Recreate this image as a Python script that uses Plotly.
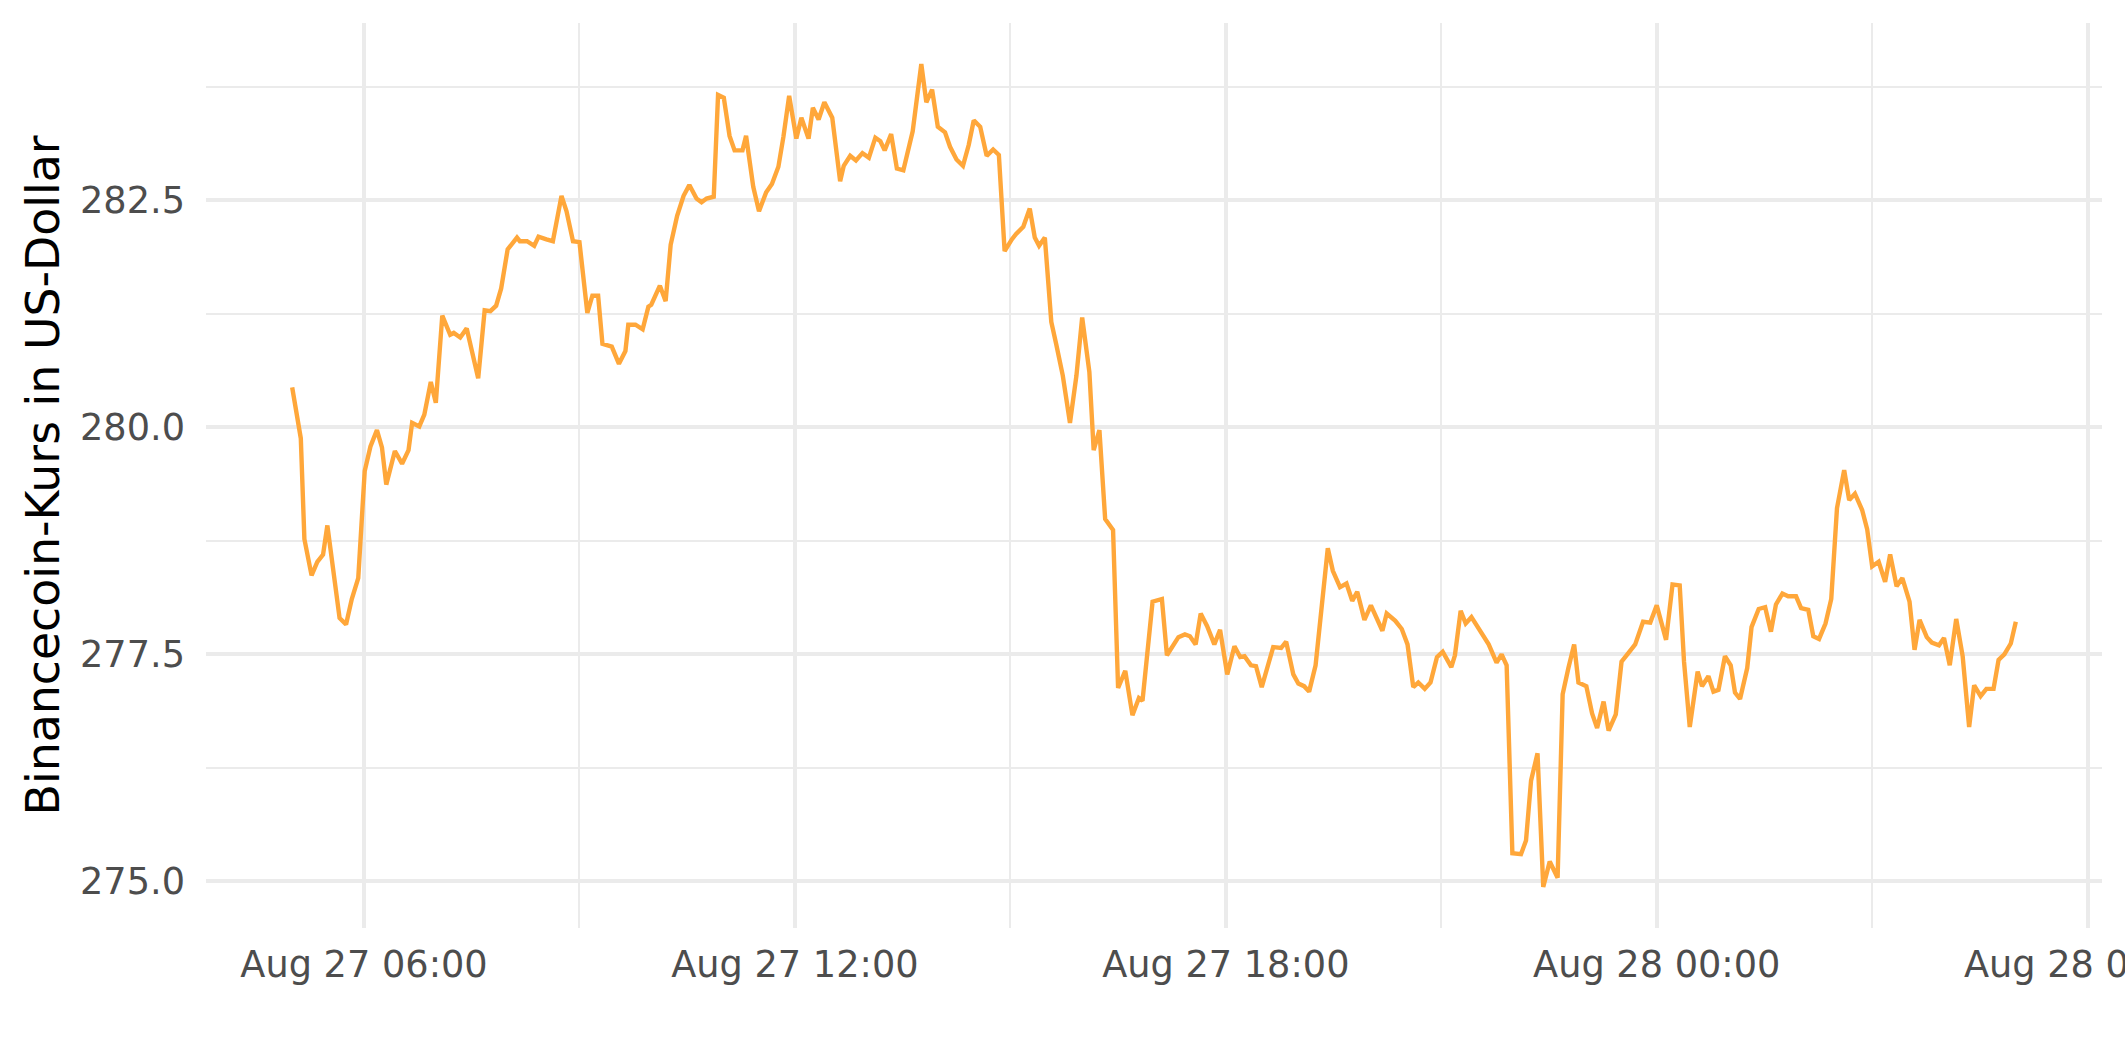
import pandas as pd
import plotly.graph_objects as go

# ---- data ----
# time in hours after 2022-08-27 00:00
time_h = [
    5.00, 5.12, 5.17, 5.27, 5.35, 5.43, 5.49, 5.57, 5.66, 5.75, 5.83, 5.92,
    6.01, 6.09, 6.18, 6.25, 6.31, 6.43, 6.53, 6.62, 6.67, 6.77, 6.84, 6.93,
    7.00, 7.09, 7.20, 7.25, 7.34, 7.43, 7.59, 7.68, 7.76, 7.84, 7.91, 8.00,
    8.13, 8.17, 8.27, 8.37, 8.43, 8.54, 8.63, 8.75, 8.82, 8.91, 9.00, 9.11,
    9.18, 9.26, 9.32, 9.45, 9.55, 9.64, 9.68, 9.78, 9.88, 9.96, 10.00, 10.12,
    10.20, 10.27, 10.36, 10.45, 10.53, 10.63, 10.70, 10.77, 10.87, 10.93, 11.01, 11.09,
    11.16, 11.27, 11.32, 11.42, 11.50, 11.60, 11.68, 11.77, 11.84, 11.92, 12.02, 12.09,
    12.19, 12.25, 12.33, 12.41, 12.52, 12.63, 12.68, 12.77, 12.85, 12.94, 13.03, 13.12,
    13.19, 13.25, 13.34, 13.42, 13.51, 13.64, 13.76, 13.83, 13.91, 13.99, 14.09, 14.16,
    14.25, 14.34, 14.42, 14.49, 14.58, 14.67, 14.76, 14.84, 14.92, 15.02, 15.08, 15.18,
    15.27, 15.34, 15.40, 15.48, 15.57, 15.64, 15.73, 15.83, 15.92, 16.00, 16.10, 16.16,
    16.24, 16.32, 16.43, 16.50, 16.60, 16.70, 16.79, 16.84, 16.98, 17.11, 17.18, 17.34,
    17.43, 17.50, 17.58, 17.65, 17.74, 17.84, 17.92, 18.02, 18.12, 18.20, 18.26, 18.35,
    18.42, 18.50, 18.58, 18.66, 18.77, 18.84, 18.94, 19.01, 19.09, 19.16, 19.25, 19.42,
    19.49, 19.59, 19.68, 19.76, 19.83, 19.93, 20.02, 20.18, 20.24, 20.36, 20.45, 20.53,
    20.61, 20.68, 20.77, 20.85, 20.94, 21.02, 21.14, 21.19, 21.27, 21.34, 21.42, 21.66,
    21.77, 21.84, 21.91, 21.99, 22.11, 22.18, 22.25, 22.34, 22.42, 22.51, 22.62, 22.69,
    22.77, 22.85, 22.91, 23.02, 23.10, 23.17, 23.26, 23.33, 23.43, 23.51, 23.61, 23.70,
    23.81, 23.91, 24.00, 24.13, 24.22, 24.32, 24.38, 24.46, 24.57, 24.63, 24.72, 24.79,
    24.86, 24.95, 25.03, 25.09, 25.16, 25.26, 25.32, 25.42, 25.51, 25.59, 25.66, 25.75,
    25.83, 25.94, 26.01, 26.11, 26.18, 26.26, 26.35, 26.43, 26.51, 26.61, 26.68, 26.76,
    26.86, 26.93, 27.00, 27.09, 27.18, 27.25, 27.34, 27.42, 27.52, 27.59, 27.66, 27.76,
    27.83, 27.93, 28.00, 28.08, 28.17, 28.26, 28.35, 28.42, 28.51, 28.59, 28.69, 28.76,
    28.84, 28.93, 29.00,
]

price = [
    280.44, 279.88, 278.77, 278.37, 278.52, 278.60, 278.92, 278.46, 277.90, 277.83, 278.11, 278.34,
    279.52, 279.79, 279.97, 279.78, 279.37, 279.74, 279.60, 279.75, 280.05, 280.01, 280.14, 280.50,
    280.27, 281.23, 281.02, 281.04, 280.99, 281.09, 280.54, 281.29, 281.28, 281.34, 281.53, 281.96,
    282.09, 282.05, 282.05, 282.00, 282.10, 282.07, 282.05, 282.55, 282.38, 282.05, 282.04, 281.26,
    281.45, 281.45, 280.92, 280.89, 280.70, 280.84, 281.13, 281.13, 281.08, 281.33, 281.35, 281.56,
    281.39, 282.01, 282.33, 282.55, 282.67, 282.52, 282.48, 282.52, 282.54, 283.66, 283.63, 283.21,
    283.05, 283.05, 283.21, 282.65, 282.38, 282.59, 282.68, 282.87, 283.20, 283.65, 283.18, 283.41,
    283.18, 283.52, 283.39, 283.58, 283.41, 282.71, 282.88, 282.99, 282.94, 283.02, 282.97, 283.19,
    283.15, 283.05, 283.23, 282.85, 282.83, 283.26, 284.00, 283.58, 283.72, 283.31, 283.25, 283.09,
    282.95, 282.88, 283.11, 283.38, 283.31, 282.99, 283.06, 283.00, 281.94, 282.07, 282.13, 282.21,
    282.41, 282.09, 282.00, 282.09, 281.16, 280.91, 280.57, 280.05, 280.57, 281.21, 280.61, 279.75,
    279.97, 278.99, 278.87, 277.13, 277.32, 276.83, 277.02, 276.99, 278.08, 278.11, 277.49, 277.69,
    277.72, 277.70, 277.61, 277.95, 277.81, 277.61, 277.77, 277.28, 277.59, 277.47, 277.48, 277.38,
    277.37, 277.14, 277.38, 277.58, 277.57, 277.64, 277.28, 277.18, 277.15, 277.09, 277.38, 278.67,
    278.42, 278.24, 278.28, 278.09, 278.19, 277.88, 278.04, 277.76, 277.95, 277.87, 277.78, 277.61,
    277.14, 277.19, 277.12, 277.19, 277.47, 277.53, 277.36, 277.49, 277.98, 277.84, 277.91, 277.61,
    277.41, 277.50, 277.38, 275.31, 275.30, 275.45, 276.11, 276.41, 274.94, 275.22, 275.04, 277.06,
    277.35, 277.61, 277.19, 277.15, 276.85, 276.69, 276.98, 276.66, 276.84, 277.42, 277.52, 277.61,
    277.86, 277.85, 278.04, 277.66, 278.27, 278.26, 277.42, 276.70, 277.31, 277.15, 277.26, 277.09,
    277.11, 277.48, 277.38, 277.08, 277.01, 277.35, 277.80, 278.00, 278.02, 277.75, 278.05, 278.17,
    278.14, 278.14, 278.01, 277.99, 277.70, 277.67, 277.84, 278.11, 279.11, 279.53, 279.20, 279.27,
    279.09, 278.88, 278.47, 278.52, 278.30, 278.60, 278.25, 278.34, 278.08, 277.55, 277.88, 277.69,
    277.63, 277.60, 277.68, 277.38, 277.89, 277.48, 276.70, 277.16, 277.04, 277.12, 277.12, 277.44,
    277.50, 277.62, 277.86,
]

x_tick_times = ["2022-08-27 06:00", "2022-08-27 12:00", "2022-08-27 18:00",
                "2022-08-28 00:00", "2022-08-28 06:00"]
x_tick_labels = ["Aug 27 06:00", "Aug 27 12:00", "Aug 27 18:00",
                 "Aug 28 00:00", "Aug 28 06:00"]
x_minor_times = ["2022-08-27 03:00", "2022-08-27 09:00", "2022-08-27 15:00",
                 "2022-08-27 21:00", "2022-08-28 03:00"]
y_ticks = [275.0, 277.5, 280.0, 282.5]
y_tick_labels = ["275.0", "277.5", "280.0", "282.5"]
y_minor = [276.25, 278.75, 281.25, 283.75]
y_title = "Binancecoin-Kurs in US-Dollar"
start_day = "2022-08-27 00:00"

# ---- build ----
base = pd.Timestamp(start_day)
ts = base + pd.to_timedelta(time_h, unit="h")

# ggplot-like 5% expansion
t_span = ts.max() - ts.min()
x_range = [ts.min() - 0.05 * t_span, ts.max() + 0.05 * t_span]
p_span = max(price) - min(price)
y_range = [min(price) - 0.05 * p_span, max(price) + 0.05 * p_span]

W, H = 2125, 1062
ML, MR, MT, MB = 206, 23, 23, 134
FONT = "DejaVu Sans"
GRID = "#EBEBEB"

fig = go.Figure()
fig.add_trace(go.Scatter(
    x=ts, y=price, mode="lines",
    line=dict(color="#FFA73A", width=4.4),
    hoverinfo="skip", showlegend=False,
))

fig.update_layout(
    width=W, height=H,
    margin=dict(l=ML, r=MR, t=MT, b=MB, pad=0),
    paper_bgcolor="white", plot_bgcolor="white",
    font=dict(family=FONT, color="#4D4D4D"),
    xaxis=dict(
        type="date", range=[x_range[0], x_range[1]],
        tickvals=x_tick_times, ticktext=x_tick_labels,
        tickfont=dict(size=36.7, color="#4D4D4D", family=FONT),
        ticks="", ticklabelstandoff=11, ticklabeloverflow="allow",
        showgrid=True, gridcolor=GRID, gridwidth=4.3,
        zeroline=False, showline=False, automargin=False,
        minor=dict(tickvals=x_minor_times, showgrid=True,
                   gridcolor=GRID, gridwidth=2.2, ticks=""),
    ),
    yaxis=dict(
        range=y_range,
        tickvals=y_ticks, ticktext=y_tick_labels,
        tickfont=dict(size=36.7, color="#4D4D4D", family=FONT),
        ticks="", ticklabelstandoff=20,
        showgrid=True, gridcolor=GRID, gridwidth=4.3,
        zeroline=False, showline=False, automargin=False,
        minor=dict(tickvals=y_minor, showgrid=True,
                   gridcolor=GRID, gridwidth=2.2, ticks=""),
    ),
    annotations=[dict(
        text=y_title, textangle=-90,
        xref="paper", yref="paper",
        x=(42 - ML) / (W - ML - MR), y=0.5,
        xanchor="center", yanchor="middle", showarrow=False,
        font=dict(family=FONT, size=45.8, color="black"),
    )],
)

fig.write_html("out.html", config={"displayModeBar": False},
               post_script="document.body.style.margin='0';")
